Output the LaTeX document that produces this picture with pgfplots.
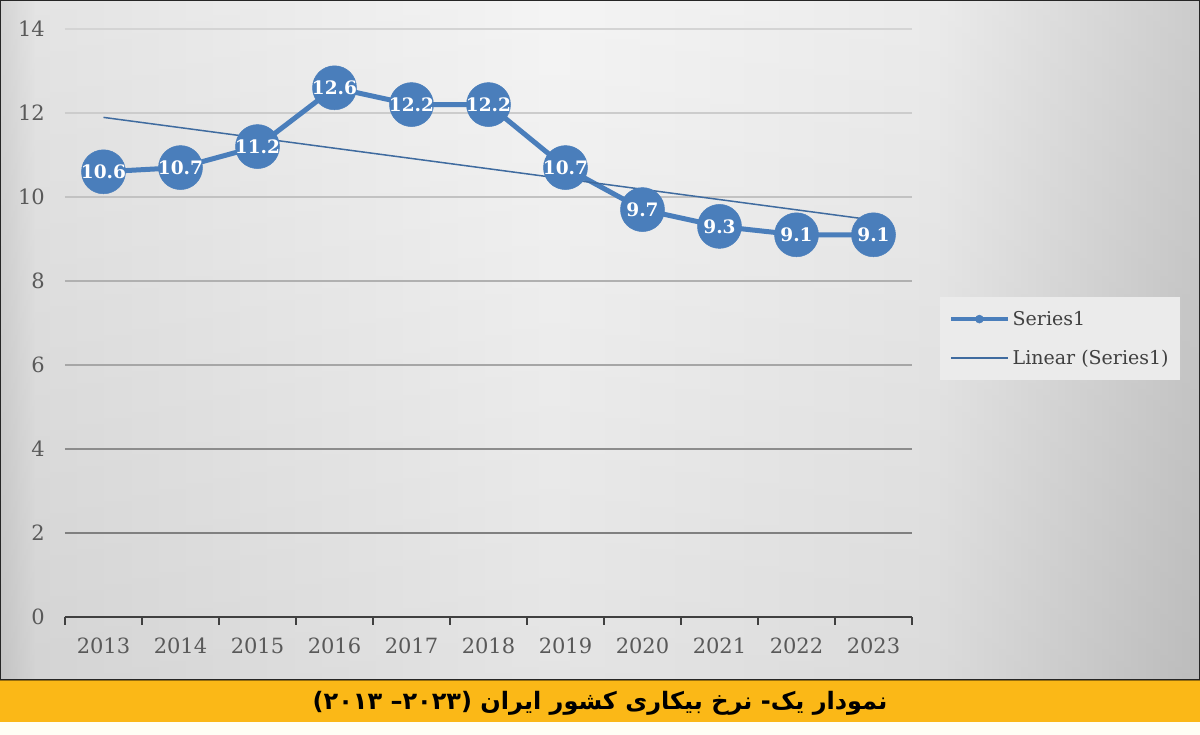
\documentclass[border=0pt]{standalone}
\usepackage{fontspec}
\usepackage{pgfplots}
\usepackage{pgfplotstable}
\pgfplotsset{compat=1.18}
\setmainfont{DejaVu Serif}
\newfontfamily\arabicfont[Script=Arabic]{DejaVu Sans}
\TeXXeTstate=1

\definecolor{serblue}{HTML}{4A7EBB}
\definecolor{tickgray}{HTML}{595959}
\definecolor{banner}{HTML}{FBB817}
\definecolor{bgA}{HTML}{CDCDCD}
\definecolor{bgB}{HTML}{E0E0E0}
\definecolor{bgC}{HTML}{F3F3F3}
\definecolor{bgD}{HTML}{E8E8E8}
\definecolor{bgE}{HTML}{C4C4C4}

% the path spans 25bp..75bp of a tikz axis shading
\pgfdeclarehorizontalshading{chartbg}{100bp}{color(0bp)=(bgA); color(25bp)=(bgA); color(26.5bp)=(bgB); color(48bp)=(bgC); color(64bp)=(bgD); color(75bp)=(bgE); color(100bp)=(bgE)}

\pgfplotstableread{
x y
0 10.6
1 10.7
2 11.2
3 12.6
4 12.2
5 12.2
6 10.7
7 9.7
8 9.3
9 9.1
10 9.1
}\unemp

\begin{document}
\begin{tikzpicture}[x=1pt,y=1pt]
  \useasboundingbox (0,0) rectangle (1200,735);
  % chart background
  \shade[shading=chartbg] (0,55) rectangle (1200,735);
  \shade[top color=white, bottom color=black!45, fill opacity=0.14] (0,55) rectangle (1200,735);
  \draw[black!85, line width=2.5pt] (0,55) rectangle (1200,735);
  % banner
  \fill[white!96!yellow] (0,0) rectangle (1200,13);
  \fill[banner] (0,13) rectangle (1200,54);
  \draw[black!40!banner, line width=1.5pt] (0,54.5) -- (1200,54.5);
  \node at (600,32) {\arabicfont\bfseries\fontsize{24}{28}\selectfont\beginR نمودار یک- نرخ بیکاری کشور ایران (۲۰۲۳– ۲۰۱۳)\endR};

  \begin{axis}[
    at={(65pt,118pt)}, anchor=south west,
    scale only axis, width=847pt, height=588pt,
    xmin=-0.5, xmax=10.5, ymin=0, ymax=14,
    axis x line*=bottom, axis y line*=left,
    y axis line style={draw=none},
    x axis line style={draw=black!75, line width=1.3pt},
    xtick={-0.5,0.5,...,10.5},
    x tick label as interval,
    xticklabels={2013,2014,2015,2016,2017,2018,2019,2020,2021,2022,2023},
    ytick={0,2,...,14},
    ytick style={draw=none},
    xtick style={draw=black!75, line width=1.3pt},
    tick align=outside, major tick length=8pt,
    tick label style={text=tickgray, font=\fontsize{21}{24}\selectfont},
    yticklabel style={inner sep=0pt, xshift=-12pt},
    xticklabel style={yshift=-9pt},
    /pgf/number format/assume math mode=true,
    clip=false,
    legend style={at={(1.033,0.544)}, anchor=north west, draw=none,
      fill=black!8, font=\fontsize{19}{22}\selectfont, text=black!75,
      inner xsep=9pt, inner ysep=12pt, row sep=19pt},
    legend cell align=left,
    legend image code/.code={\draw[mark repeat=2, mark phase=2, #1] plot coordinates {(0pt,0pt) (28pt,0pt) (57pt,0pt)};},
  ]
    % gridlines
    \draw[black!17, line width=1.2pt] (axis cs:-0.5,14) -- (axis cs:10.5,14);
    \draw[black!20, line width=1.2pt] (axis cs:-0.5,12) -- (axis cs:10.5,12);
    \draw[black!24, line width=1.2pt] (axis cs:-0.5,10) -- (axis cs:10.5,10);
    \draw[black!31, line width=1.2pt] (axis cs:-0.5,8) -- (axis cs:10.5,8);
    \draw[black!35, line width=1.2pt] (axis cs:-0.5,6) -- (axis cs:10.5,6);
    \draw[black!45, line width=1.2pt] (axis cs:-0.5,4) -- (axis cs:10.5,4);
    \draw[black!50, line width=1.2pt] (axis cs:-0.5,2) -- (axis cs:10.5,2);

    \addplot[serblue, line width=5pt, mark=*, mark size=22pt,
      mark options={fill=serblue, draw=serblue, line width=0.5pt},
      legend image post style={mark size=4pt, line width=4.5pt},
      nodes near coords,
      every node near coord/.append style={anchor=center, text=white,
        font=\bfseries\fontsize{18.5}{20}\selectfont},
      /pgf/number format/.cd, fixed, precision=1]
      table[x=x, y=y] {\unemp};
    \addlegendentry{Series1}
    \addplot[serblue!85!black, line width=1.5pt, mark=none]
      table[x=x, y={create col/linear regression={y=y}}] {\unemp};
    \addlegendentry{Linear (Series1)}
  \end{axis}
\end{tikzpicture}
\end{document}
